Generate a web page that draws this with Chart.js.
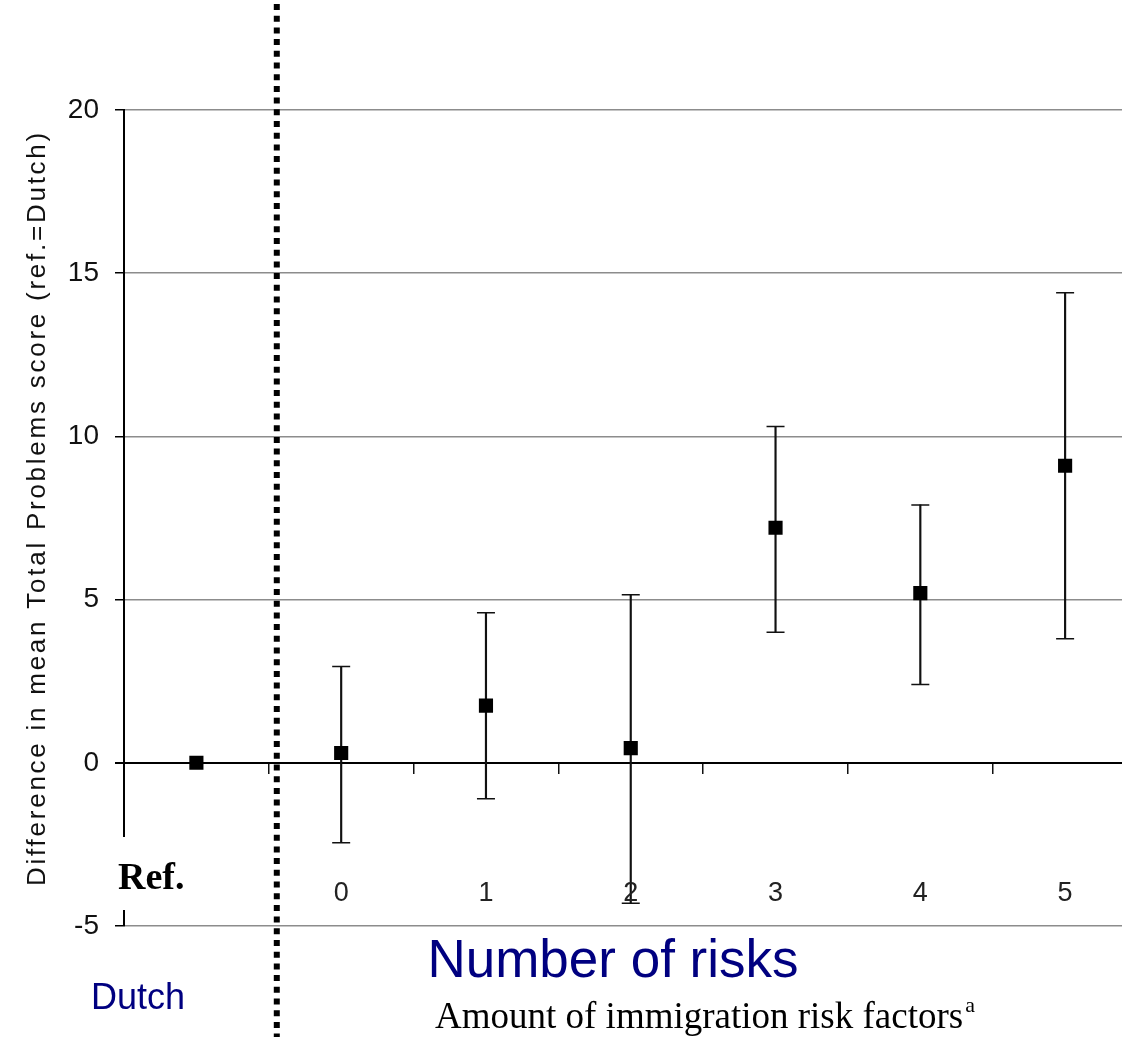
<!DOCTYPE html>
<html>
<head>
<meta charset="utf-8">
<script src="https://cdn.jsdelivr.net/npm/chart.js@4"></script>
<style>
  html, body { margin: 0; padding: 0; background: #fff; overflow: hidden; }
  canvas { display: block; }
</style>
</head>
<body>
<canvas id="riskChart" width="1148" height="1037"></canvas>
<script>
const categories = ["Ref.", "0", "1", "2", "3", "4", "5"];
const meanDiff = [0, 0.3, 1.75, 0.45, 7.2, 5.2, 9.1];
const ciLow = [null, -2.45, -1.1, -4.3, 4.0, 2.4, 3.8];
const ciHigh = [null, 2.95, 4.6, 5.15, 10.3, 7.9, 14.4];
const yTicks = [-5, 0, 5, 10, 15, 20];

const yTitle = "Difference in mean Total Problems score (ref.=Dutch)";
const xTitle = "Number of risks";
const xSubTitle = "Amount of immigration risk factors";
const refGroup = "Dutch";

const navy = "#000080";

const ctx = document.getElementById("riskChart");

// whiskers as thin floating bars
const whiskers = ciLow.map((lo, i) => (lo === null ? null : [lo, ciHigh[i]]));

const extraText = {
    id: "extraText",
    afterDraw(chart) {
        const c = chart.ctx;
        const x = chart.scales.x;
        const area = chart.chartArea;

        c.save();
        // gap in the y axis behind the "Ref." label
        c.fillStyle = "#fff";
        c.fillRect(area.left - 6, area.bottom - 89, 130, 73);

        // category labels sit inside the plot, just above -5
        c.fillStyle = "#222";
        c.font = "27px Arial, 'Liberation Sans', sans-serif";
        c.textAlign = "center";
        c.textBaseline = "middle";
        for (let i = 1; i < categories.length; i++) {
            c.fillText(categories[i], x.getPixelForValue(i), area.bottom - 32);
        }
        c.fillStyle = "#000";
        c.font = "bold 38px 'Liberation Serif', 'Times New Roman', serif";
        c.textAlign = "left";
        c.textBaseline = "alphabetic";
        c.fillText(categories[0], area.left - 6, area.bottom - 37);

        // y axis title, letter spaced
        c.save();
        c.translate(45, (area.top + area.bottom) / 2 - 10);
        c.rotate(-Math.PI / 2);
        c.letterSpacing = "2.75px";
        c.font = "26px Arial, 'Liberation Sans', sans-serif";
        c.fillStyle = "#111";
        c.textAlign = "center";
        c.fillText(yTitle, 0, 0);
        c.restore();

        // bottom texts
        c.fillStyle = navy;
        c.textAlign = "center";
        c.font = "53px Arial, 'Liberation Sans', sans-serif";
        c.fillText(xTitle, 613, 977);
        c.font = "36px Arial, 'Liberation Sans', sans-serif";
        c.fillText(refGroup, 138, 1009);

        c.fillStyle = "#000";
        c.textAlign = "left";
        c.font = "37px 'Liberation Serif', 'Times New Roman', serif";
        c.fillText(xSubTitle, 435, 1028);
        const w = c.measureText(xSubTitle).width;
        c.font = "22px 'Liberation Serif', 'Times New Roman', serif";
        c.fillText("a", 435 + w + 2, 1012);

        // dotted separator between Ref. and the risk groups
        const sepX = (x.getPixelForValue(0) + x.getPixelForValue(1)) / 2 + 8;
        c.strokeStyle = "#000";
        c.lineWidth = 6;
        c.setLineDash([6, 5.7]);
        c.beginPath();
        c.moveTo(sepX, 4);
        c.lineTo(sepX, chart.height);
        c.stroke();
        c.restore();
    },
};

new Chart(ctx, {
    type: "bar",
    data: {
        labels: categories,
        datasets: [
            {
                type: "line",
                label: "Mean difference",
                data: meanDiff,
                showLine: false,
                pointStyle: "rect",
                pointRadius: 10,
                pointBackgroundColor: "#000",
                pointBorderWidth: 0,
                order: 0,
            },
            {
                type: "line",
                label: "CI low",
                data: ciLow,
                showLine: false,
                pointStyle: "line",
                pointRadius: 9,
                pointBorderColor: "#111",
                pointBorderWidth: 1.5,
                order: 1,
            },
            {
                type: "line",
                label: "CI high",
                data: ciHigh,
                showLine: false,
                pointStyle: "line",
                pointRadius: 9,
                pointBorderColor: "#111",
                pointBorderWidth: 1.5,
                order: 1,
            },
            {
                label: "CI",
                data: whiskers,
                backgroundColor: "#111",
                borderWidth: 0,
                barThickness: 1.5,
                order: 2,
            },
        ],
    },
    options: {
        responsive: false,
        animation: false,
        events: [],
        layout: { padding: { left: 0, right: 3, top: 110, bottom: 111 } },
        plugins: {
            legend: { display: false },
            tooltip: { enabled: false },
        },
        scales: {
            x: {
                position: { y: 0 },
                offset: true,
                grid: {
                    offset: true,
                    drawOnChartArea: false,
                    drawTicks: true,
                    tickLength: 10,
                    color: "#111",
                    lineWidth: 1.5,
                },
                border: { color: "#000", width: 2 },
                ticks: { display: false },
                afterFit(scale) {
                    scale.height = 0;
                },
            },
            y: {
                min: -5,
                max: 20,
                afterBuildTicks(scale) {
                    scale.ticks = yTicks.map((v) => ({ value: v }));
                },
                ticks: {
                    color: "#111",
                    padding: 16,
                    font: { family: "Arial, 'Liberation Sans', sans-serif", size: 28 },
                },
                grid: {
                    color: (c) => (c.tick && c.tick.value === 0 ? "#000" : "#8c8c8c"),
                    lineWidth: (c) => (c.tick && c.tick.value === 0 ? 2 : 1.5),
                    tickColor: "#000",
                    tickLength: 9,
                },
                border: { color: "#000", width: 2 },
                afterFit(scale) {
                    scale.width = 124;
                },
            },
        },
    },
    plugins: [extraText],
});
</script>
</body>
</html>
